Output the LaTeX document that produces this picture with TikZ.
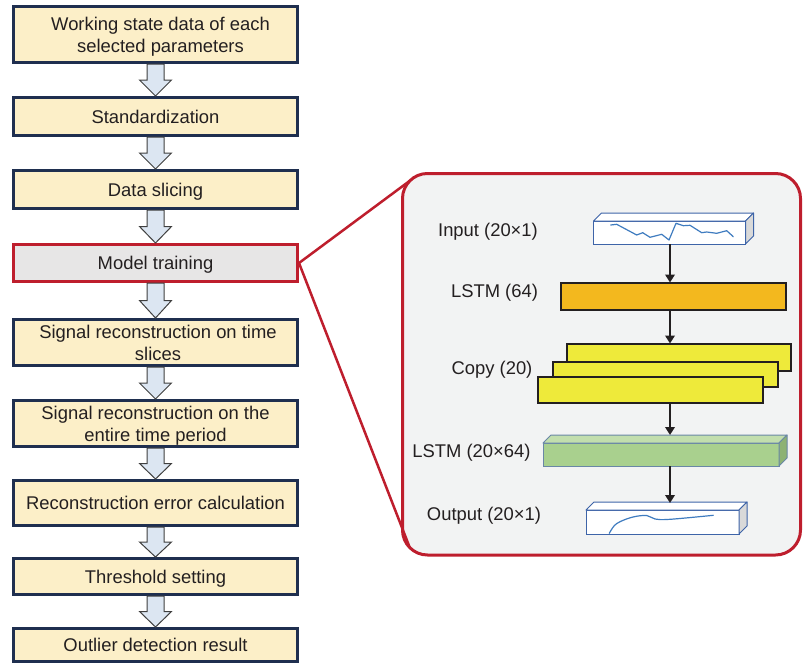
\documentclass[tikz,border=0pt]{standalone}
\usepackage{fontspec}
\setmainfont{Liberation Sans}
\usetikzlibrary{calc,arrows.meta}

\definecolor{boxfill}{HTML}{FCEFC8}
\definecolor{boxline}{HTML}{1F2F4F}
\definecolor{hired}{HTML}{BE1E2D}
\definecolor{panelfill}{HTML}{F2F3F3}
\definecolor{trainfill}{HTML}{E7E6E6}
\definecolor{arrfill}{HTML}{DCE6F2}
\definecolor{arrline}{HTML}{3F3F3F}
\definecolor{txt}{HTML}{231F20}
\definecolor{lstmfill}{HTML}{F3B81E}
\definecolor{copyfill}{HTML}{EEEA3A}
\definecolor{greenF}{HTML}{A9D08E}
\definecolor{greenT}{HTML}{C2DEAD}
\definecolor{greenS}{HTML}{8DB274}
\definecolor{greenL}{HTML}{6A87A6}
\definecolor{sigblue}{HTML}{3F7CC0}
\definecolor{cubeline}{HTML}{3E64A8}
\definecolor{sidegrey}{HTML}{D9D9D9}

% hollow block arrow between two stacked stages
\newcommand\flowstep[2]{%
  \draw[flowarrow] let \p1=(#1.south), \p2=(#2.north),
      \p3=($(#1.south)!.5!(#2.north)$) in
    (\x1-8.5pt,\y1) -- (\x1+8.5pt,\y1) -- (\x1+8.5pt,\y3) -- (\x1+16pt,\y3)
    -- (\x1,\y2) -- (\x1-16pt,\y3) -- (\x1-8.5pt,\y3) -- cycle;}

% top and side faces of a flat prism whose front face is node #1
\newcommand\prismfaces[4]{%
  \filldraw[fill=#2, draw=#4, line width=1pt, line join=round]
    (#1.north west) -- ++(8,-8) -- ($(#1.north east)+(8,-8)$) -- (#1.north east) -- cycle;
  \filldraw[fill=#3, draw=#4, line width=1pt, line join=round]
    (#1.north east) -- ++(8,-8) -- ($(#1.south east)+(8,-8)$) -- (#1.south east) -- cycle;}

\begin{document}
\begin{tikzpicture}[x=1pt, y=-1pt,
  font=\fontsize{18.4}{22}\selectfont, text=txt,
  stage/.style={draw=boxline, fill=boxfill, line width=3pt,
    minimum width=284pt, inner sep=0pt, align=center, text depth=0pt},
  flowarrow/.style={draw=arrline, fill=arrfill, line width=1pt, line join=miter},
  redline/.style={draw=hired, line width=2.5pt},
  layer/.style={draw=txt, line width=2pt, inner sep=0pt, outer sep=0pt},
  prism/.style={line width=1pt, inner sep=0pt, outer sep=0pt},
  flow/.style={draw=txt, line width=2.8pt, -{Triangle[length=8pt,width=9.5pt]}},
  sig/.style={draw=sigblue, line width=1.2pt, line join=round, line cap=round},
  lbl/.style={inner sep=0pt}]

\useasboundingbox (0,0) rectangle (803,664);

% ---------- processing pipeline ----------
\node[stage, minimum height=56pt] (s1) at (155.5,34.5)
  {\hspace*{10pt}Working state data of each\\\hspace*{10pt}selected parameters};
\node[stage, minimum height=38pt] (s2) at (155.5,116.5) {Standardization};
\node[stage, minimum height=38pt] (s3) at (155.5,189.5) {Data slicing};
\node[stage, minimum height=37pt, draw=hired, fill=trainfill] (s4) at (155.5,263) {Model training};
\node[stage, minimum height=46pt] (s5) at (155.5,342.5)
  {\hspace*{5pt}Signal reconstruction on time\\\hspace*{5pt}slices};
\node[stage, minimum height=46pt] (s6) at (155.5,423.5)
  {Signal reconstruction on the\\entire time period};
\node[stage, minimum height=45pt] (s7) at (155.5,503) {Reconstruction error calculation};
\node[stage, minimum height=36pt] (s8) at (155.5,576.5) {Threshold setting};
\node[stage, minimum height=33pt] (s9) at (155.5,645) {Outlier detection result};

\flowstep{s1}{s2}
\flowstep{s2}{s3}
\flowstep{s3}{s4}
\flowstep{s4}{s5}
\flowstep{s5}{s6}
\flowstep{s6}{s7}
\flowstep{s7}{s8}
\flowstep{s8}{s9}

% ---------- network detail panel ----------
\node[draw=hired, fill=panelfill, line width=3pt, rounded corners=25pt,
  minimum width=398pt, minimum height=381.5pt, inner sep=0pt] (panel) at (601.5,364.25) {};
\coordinate (cornerTL) at ($(panel.north west)+(8.8,8.8)$);
\coordinate (cornerBL) at ($(panel.south west)+(8.8,-8.8)$);
\draw[redline] (s4.east) -- (cornerTL);
\draw[redline] (s4.east) -- (cornerBL);

% input sequence
\node[prism, draw=cubeline, fill=white, minimum width=152pt, minimum height=23pt] (inp) at (669.5,232.5) {};
\prismfaces{inp}{white}{sidegrey}{cubeline}
\draw[sig] (610.7,225) -- (616.7,224.3) -- (636.7,235) -- (642.7,232.7) -- (650,237.3)
  -- (661.7,234.3) -- (669,240) -- (676,223.3) -- (683.3,225.7) -- (690,225.3)
  -- (701.7,232.7) -- (706.7,232) -- (716.7,233.3) -- (726.7,230.7) -- (733.3,236.7);

% encoder LSTM
\node[layer, fill=lstmfill, minimum width=225pt, minimum height=27pt] (enc) at (673,296) {};

% repeated copies
\node[layer, fill=copyfill, minimum width=224pt, minimum height=27pt] (copyA) at (678.5,357) {};
\node[layer, fill=copyfill, minimum width=225pt, minimum height=25pt] (copyB) at (665,374) {};
\node[layer, fill=copyfill, minimum width=225pt, minimum height=26pt] (copyC) at (650,389.5) {};

% decoder LSTM
\node[prism, draw=greenL, fill=greenF, minimum width=236pt, minimum height=23pt] (dec) at (661,454.5) {};
\prismfaces{dec}{greenT}{greenS}{greenL}

% reconstructed output
\node[prism, draw=cubeline, fill=white, minimum width=153pt, minimum height=24pt] (outp) at (662.5,522) {};
\prismfaces{outp}{white}{sidegrey}{cubeline}
\draw[sig] plot[smooth, tension=0.6] coordinates {(609.3,533.3) (614,526) (620,521.7)
  (633,517) (646.7,515.5) (655,519) (670,519.3) (713.3,515.3)};

% data flow
\coordinate (ax) at (670,0);
\draw[flow] (ax |- inp.south) -- (ax |- enc.north);
\draw[flow] (ax |- enc.south) -- (ax |- copyA.north);
\draw[flow] (ax |- copyC.south) -- ($(ax |- dec.north)+(0,-8)$);
\draw[flow] (ax |- dec.south) -- ($(ax |- outp.north)+(0,-7)$);

% layer labels
\node[lbl] (tIn)   at (488,232)   {Input (20×1)};
\node[lbl] (tEnc)  at (494.5,292.5) {LSTM (64)};
\node[lbl] (tCopy) at (492,370)   {Copy (20)};
\node[lbl] (tDec)  at (471.5,452.5) {LSTM (20×64)};
\node[lbl] (tOut)  at (484,516)   {Output (20×1)};
\end{tikzpicture}
\end{document}
